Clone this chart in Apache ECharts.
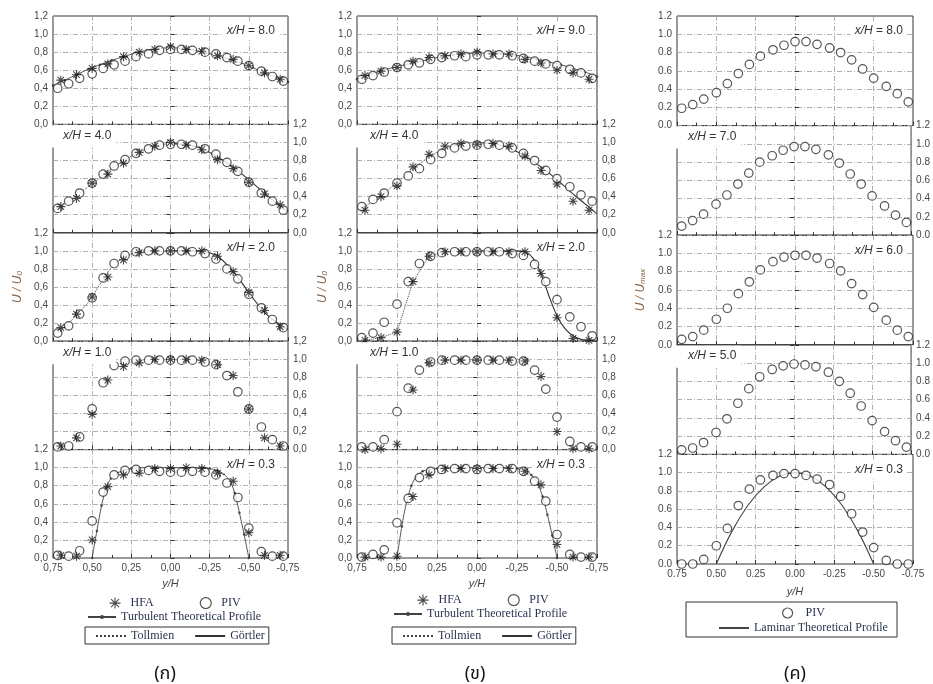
<!DOCTYPE html>
<html><head><meta charset="utf-8">
<script src="https://cdn.jsdelivr.net/npm/echarts@6/dist/echarts.min.js"></script>
<style>html,body{margin:0;padding:0;background:#fff}#c{width:933px;height:684px}</style>
</head><body><div id="c"></div>
<script>
// ---------- x positions (y/H) ----------
const yH_PIV = [0.72,0.65,0.58,0.50,0.43,0.36,0.29,0.22,0.14,0.07,0.00,-0.07,-0.14,-0.22,-0.29,-0.36,-0.43,-0.50,-0.58,-0.65,-0.72];
const yH_HFA = [0.7,0.6,0.5,0.4,0.3,0.2,0.1,0.0,-0.1,-0.2,-0.3,-0.4,-0.5,-0.6,-0.7];
const yH_curve = [0.75,0.675,0.6,0.525,0.45,0.375,0.3,0.225,0.15,0.075,0,-0.075,-0.15,-0.225,-0.3,-0.375,-0.45,-0.525,-0.6,-0.675,-0.75];
const yH_left = [0.75,0.675,0.6,0.525,0.45,0.375,0.3,0.225,0.15,0.075,0];
const yH_right = [0,-0.075,-0.15,-0.225,-0.3,-0.375,-0.45,-0.525,-0.6,-0.675,-0.75];
const yH_hat = [0.5,0.47,0.44,0.41,0.38,0.34,0.3,0.25,0.2,0.1,0,-0.1,-0.2,-0.25,-0.3,-0.34,-0.38,-0.41,-0.44,-0.47,-0.5];
const yH_lam = [0.5,0.4,0.3,0.2,0.1,0,-0.1,-0.2,-0.3,-0.4,-0.5];
const yH_tollB = [0.75,0.7,0.6,0.5,0.4,0.3,0.2,0.1,0];
const yH_gortB = [0,-0.1,-0.2,-0.25,-0.3,-0.35,-0.4,-0.45,-0.5,-0.55,-0.6,-0.65,-0.7,-0.75];

// ---------- column (ก) ----------
const a8_piv = [0.40,0.45,0.51,0.56,0.62,0.66,0.70,0.75,0.78,0.82,0.83,0.83,0.82,0.80,0.78,0.74,0.70,0.65,0.59,0.53,0.48];
const a8_hfa = [0.49,0.55,0.62,0.67,0.75,0.80,0.83,0.86,0.83,0.81,0.76,0.72,0.65,0.57,0.50];
const a8_turb = [0.43,0.49,0.55,0.61,0.66,0.71,0.75,0.79,0.82,0.84,0.85,0.84,0.82,0.79,0.76,0.72,0.68,0.63,0.57,0.52,0.47];
const a4_piv = [0.27,0.35,0.44,0.55,0.65,0.74,0.81,0.88,0.93,0.97,0.98,0.98,0.97,0.93,0.87,0.78,0.68,0.56,0.44,0.35,0.25];
const a4_hfa = [0.29,0.38,0.55,0.65,0.77,0.89,0.96,1.00,0.97,0.92,0.81,0.71,0.56,0.43,0.31];
const a4_toll = [0.25,0.32,0.41,0.51,0.61,0.71,0.80,0.87,0.93,0.97,0.99];
const a4_gort = [0.99,0.98,0.96,0.91,0.84,0.76,0.66,0.55,0.44,0.33,0.23];
const a2_piv = [0.09,0.17,0.30,0.48,0.70,0.86,0.95,0.99,1.00,1.00,1.00,1.00,0.99,0.97,0.91,0.80,0.69,0.52,0.37,0.24,0.15];
const a2_hfa = [0.15,0.30,0.49,0.71,0.90,0.98,1.00,1.00,1.00,1.00,0.94,0.77,0.54,0.34,0.16];
const a2_toll = [0.08,0.16,0.29,0.43,0.63,0.82,0.93,0.98,1.00,1.00,1.00];
const a2_gort = [1.00,1.00,1.00,0.99,0.94,0.82,0.66,0.48,0.32,0.21,0.13];
const a1_piv = [0.03,0.04,0.14,0.45,0.74,0.93,0.98,0.99,0.99,0.99,0.99,0.99,0.99,0.97,0.94,0.82,0.64,0.45,0.25,0.11,0.04];
const a1_hfa = [0.04,0.13,0.39,0.77,0.92,0.96,1.00,1.00,1.00,0.99,0.94,0.82,0.45,0.13,0.04];
const a03_piv = [0.03,0.02,0.08,0.41,0.73,0.92,0.97,0.98,0.97,0.96,0.95,0.95,0.96,0.95,0.92,0.83,0.67,0.33,0.07,0.02,0.02];
const a03_hfa = [0.03,0.02,0.20,0.79,0.92,0.94,0.99,0.99,1.00,0.99,0.94,0.85,0.28,0.03,0.03];
const a03_turb = [0.00,0.30,0.58,0.78,0.88,0.94,0.97,0.99,1.00,1.00,1.00,1.00,1.00,0.99,0.97,0.93,0.85,0.72,0.50,0.26,0.00];

// ---------- column (ข) ----------
const b9_piv = [0.50,0.54,0.58,0.63,0.66,0.68,0.72,0.74,0.76,0.75,0.77,0.77,0.77,0.76,0.73,0.70,0.67,0.65,0.61,0.57,0.51];
const b9_hfa = [0.54,0.59,0.63,0.70,0.74,0.76,0.78,0.80,0.78,0.78,0.72,0.68,0.60,0.57,0.50];
const b9_turb = [0.50,0.55,0.59,0.63,0.66,0.69,0.72,0.75,0.77,0.78,0.79,0.79,0.78,0.77,0.75,0.72,0.69,0.66,0.62,0.58,0.53];
const b4_piv = [0.29,0.37,0.44,0.55,0.63,0.71,0.81,0.88,0.94,0.96,0.97,0.98,0.97,0.94,0.88,0.80,0.69,0.60,0.51,0.42,0.35];
const b4_hfa = [0.25,0.40,0.52,0.73,0.87,0.96,0.99,0.98,0.99,0.96,0.85,0.69,0.54,0.35,0.25];
const b4_toll = [0.25,0.32,0.41,0.52,0.63,0.74,0.84,0.91,0.96,0.99,1.00];
const b4_gort = [1.00,0.99,0.97,0.92,0.85,0.76,0.66,0.55,0.43,0.32,0.21];
const b2_piv = [0.04,0.09,0.21,0.41,0.66,0.86,0.94,0.98,0.99,0.99,0.99,0.99,0.99,0.97,0.95,0.85,0.66,0.46,0.27,0.16,0.06];
const b2_hfa = [0.01,0.04,0.10,0.66,0.94,0.99,0.99,0.99,0.99,0.99,0.99,0.75,0.26,0.03,0.01];
const b2_toll = [0.00,0.01,0.04,0.10,0.66,0.94,0.99,1.00,1.00];
const b2_gort = [1.00,1.00,1.00,1.00,0.99,0.92,0.75,0.50,0.28,0.14,0.06,0.02,0.01,0.00];
const b1_piv = [0.03,0.03,0.11,0.42,0.68,0.88,0.97,0.99,0.99,0.99,0.99,0.99,0.99,0.98,0.98,0.88,0.67,0.36,0.09,0.03,0.03];
const b1_hfa = [0.00,0.01,0.06,0.66,0.96,0.99,0.99,0.99,0.99,0.99,0.98,0.81,0.20,0.01,0.01];
const b03_piv = [0.01,0.04,0.09,0.39,0.66,0.89,0.96,0.98,0.99,0.99,0.98,0.99,0.99,0.99,0.96,0.85,0.63,0.26,0.04,0.01,0.01];
const b03_hfa = [0.01,0.01,0.02,0.68,0.92,0.99,0.99,0.99,0.99,0.99,0.96,0.81,0.15,0.01,0.01];
const b03_turb = [0.00,0.35,0.62,0.80,0.90,0.96,0.98,0.99,1.00,1.00,1.00,1.00,1.00,0.99,0.97,0.92,0.82,0.68,0.48,0.25,0.00];

// ---------- column (ค) ----------
const c8_piv = [0.19,0.23,0.29,0.36,0.46,0.57,0.67,0.76,0.83,0.88,0.92,0.92,0.89,0.85,0.80,0.72,0.62,0.52,0.43,0.35,0.26];
const c7_piv = [0.10,0.16,0.23,0.34,0.44,0.56,0.68,0.80,0.87,0.93,0.97,0.97,0.94,0.88,0.79,0.67,0.56,0.43,0.32,0.22,0.14];
const c6_piv = [0.06,0.09,0.16,0.28,0.40,0.56,0.69,0.82,0.91,0.96,0.98,0.98,0.95,0.89,0.81,0.67,0.55,0.41,0.27,0.16,0.09];
const c5_piv = [0.05,0.07,0.13,0.24,0.39,0.56,0.72,0.85,0.93,0.97,0.99,0.98,0.96,0.90,0.80,0.67,0.53,0.37,0.25,0.15,0.08];
const c03_piv = [0.00,0.00,0.05,0.20,0.39,0.64,0.82,0.92,0.97,0.99,0.99,0.97,0.93,0.87,0.74,0.55,0.35,0.18,0.04,0.00,0.00];
const c03_lam = [0.00,0.36,0.64,0.84,0.96,1.00,0.96,0.84,0.64,0.36,0.00];

const panelLabelsA = ['8.0','4.0','2.0','1.0','0.3'];
const panelLabelsB = ['9.0','4.0','2.0','1.0','0.3'];
const panelLabelsC = ['8.0','7.0','6.0','5.0','0.3'];
const captions = ['(ก)','(ข)','(ค)'];

// ---------- styles ----------
const FONT = 'Liberation Sans, Arial, sans-serif';
const SERIF = 'Liberation Serif, Times New Roman, serif';
const LABEL = '#4a4540';
const ASTER = 'path://M0,-10L0,10M-10,0L10,0M-7.2,-7.2L7.2,7.2M-7.2,7.2L7.2,-7.2';
const GRIDLINE = {color:'#9c9c9c', width:0.8, type:[5,2,1,2]};

const LINESTYLES = {
  turb: {lineStyle:{color:'#444', width:0.9, type:'solid'}, symbol:'circle', symbolSize:2.5, smooth:0.3},
  toll: {lineStyle:{color:'#444', width:1, type:'dotted'}, symbol:'none', smooth:0.3},
  tollS: {lineStyle:{color:'#444', width:1, type:'dotted'}, symbol:'none', smooth:false},
  gort: {lineStyle:{color:'#333', width:1.1, type:'solid'}, symbol:'none', smooth:0.3},
  lam: {lineStyle:{color:'#444', width:1.1, type:'solid'}, symbol:'none', smooth:0.4}
};

const zip = (xs, ys) => xs.map((x, i) => [x, ys[i]]);

const PANELS = [
  [
    {label:panelLabelsA[0], piv:a8_piv, hfa:a8_hfa, lines:[{name:'Turbulent Theoretical Profile', xs:yH_curve, ys:a8_turb, st:'turb'}]},
    {label:panelLabelsA[1], piv:a4_piv, hfa:a4_hfa, lines:[{name:'Tollmien', xs:yH_left, ys:a4_toll, st:'toll'},{name:'Görtler', xs:yH_right, ys:a4_gort, st:'gort'}]},
    {label:panelLabelsA[2], piv:a2_piv, hfa:a2_hfa, lines:[{name:'Tollmien', xs:yH_left, ys:a2_toll, st:'toll'},{name:'Görtler', xs:yH_right, ys:a2_gort, st:'gort'}]},
    {label:panelLabelsA[3], piv:a1_piv, hfa:a1_hfa, lines:[]},
    {label:panelLabelsA[4], piv:a03_piv, hfa:a03_hfa, lines:[{name:'Turbulent Theoretical Profile', xs:yH_hat, ys:a03_turb, st:'turb'}]}
  ],
  [
    {label:panelLabelsB[0], piv:b9_piv, hfa:b9_hfa, lines:[{name:'Turbulent Theoretical Profile', xs:yH_curve, ys:b9_turb, st:'turb'}]},
    {label:panelLabelsB[1], piv:b4_piv, hfa:b4_hfa, lines:[{name:'Tollmien', xs:yH_left, ys:b4_toll, st:'toll'},{name:'Görtler', xs:yH_right, ys:b4_gort, st:'gort'}]},
    {label:panelLabelsB[2], piv:b2_piv, hfa:b2_hfa, lines:[{name:'Tollmien', xs:yH_tollB, ys:b2_toll, st:'tollS'},{name:'Görtler', xs:yH_gortB, ys:b2_gort, st:'gort'}]},
    {label:panelLabelsB[3], piv:b1_piv, hfa:b1_hfa, lines:[]},
    {label:panelLabelsB[4], piv:b03_piv, hfa:b03_hfa, lines:[{name:'Turbulent Theoretical Profile', xs:yH_hat, ys:b03_turb, st:'turb'}]}
  ],
  [
    {label:panelLabelsC[0], piv:c8_piv, lines:[]},
    {label:panelLabelsC[1], piv:c7_piv, lines:[]},
    {label:panelLabelsC[2], piv:c6_piv, lines:[]},
    {label:panelLabelsC[3], piv:c5_piv, lines:[]},
    {label:panelLabelsC[4], piv:c03_piv, lines:[{name:'Laminar Theoretical Profile', xs:yH_lam, ys:c03_lam, st:'lam'}]}
  ]
];

const COLS = [
  {left:53, width:235, tops:[16,124.4,232.8,341.2,449.6], h:108.4, dec:',', tRight:654, tLeft:50, tPad:13, yName:'U / U{s|0}', yGap:29, xGap:20},
  {left:357, width:240, tops:[16,124.4,232.8,341.2,449.6], h:108.4, dec:',', tRight:344, tLeft:354, tPad:16, yName:'U / U{s|0}', yGap:28, xGap:20},
  {left:677, width:236, tops:[16,125.6,235.2,344.8,454.4], h:109.6, dec:'.', tRight:26, tLeft:674, tPad:14, yName:'U / U{s|max}', yGap:30, xGap:22}
];

const option = {animation:false, backgroundColor:'#fff', grid:[], xAxis:[], yAxis:[], series:[], title:[], legend:[], graphic:[]};

COLS.forEach((c, ci) => {
  PANELS[ci].forEach((p, ri) => {
    const gi = option.grid.length;
    const top = c.tops[ri];
    const bottom = ri === 4;
    const rightSide = ri % 2 === 1;
    option.grid.push({left:c.left, top:top, width:c.width, height:c.h, show:true, borderColor:'#333', borderWidth:1, backgroundColor:'transparent'});
    option.xAxis.push({
      gridIndex:gi, type:'value', inverse:true, min:-0.75, max:0.75, interval:0.25,
      axisLine:{show:false},
      axisTick:{show:true, inside:true, length:4, lineStyle:{color:'#333'}},
      minorTick:{show:true, splitNumber:2, length:3, lineStyle:{color:'#333'}},
      splitLine:{show:true, lineStyle:GRIDLINE},
      axisLabel:{show:bottom, formatter:v => v.toFixed(2).replace('.', c.dec), color:LABEL, fontSize:10, fontFamily:FONT, margin:5},
      name: bottom ? 'y/H' : '', nameLocation:'middle', nameGap:c.xGap,
      nameTextStyle:{fontStyle:'italic', fontFamily:FONT, fontSize:11, color:'#444'}
    });
    option.yAxis.push({
      gridIndex:gi, type:'value', min:0, max:1.2, interval:0.2, position: rightSide ? 'right' : 'left',
      axisLine:{show:false},
      axisTick:{show:true, inside:true, length:4, lineStyle:{color:'#333'}},
      splitLine:{show:true, lineStyle:GRIDLINE},
      axisLabel:{formatter:v => v.toFixed(1).replace('.', c.dec), color:LABEL, fontSize:10, fontFamily:FONT, margin:5},
      name: ri === 2 ? c.yName : '', nameLocation:'middle', nameGap:c.yGap, nameRotate:90,
      nameTextStyle:{fontStyle:'italic', fontFamily:FONT, fontSize:12, color:'#8a6446',
        rich:{s:{fontStyle:'italic', fontFamily:FONT, fontSize:8, color:'#8a6446', verticalAlign:'bottom', padding:[4,0,0,0]}}}
    });
    p.lines.forEach(l => {
      const st = LINESTYLES[l.st];
      option.series.push({type:'line', name:l.name, xAxisIndex:gi, yAxisIndex:gi, data:zip(l.xs, l.ys),
        smooth:st.smooth, symbol:st.symbol, symbolSize:st.symbolSize || 2, showSymbol:st.symbol !== 'none',
        lineStyle:st.lineStyle, itemStyle:{color:st.lineStyle.color}, z:3, silent:true});
    });
    if (p.hfa) {
      option.series.push({type:'scatter', name:'HFA', xAxisIndex:gi, yAxisIndex:gi, data:zip(yH_HFA, p.hfa),
        symbol:ASTER, symbolSize:9, itemStyle:{color:'transparent', borderColor:'#1a1a1a', borderWidth:1.1}, z:5, silent:true});
    }
    option.series.push({type:'scatter', name:'PIV', xAxisIndex:gi, yAxisIndex:gi, data:zip(yH_PIV, p.piv),
      symbol:'circle', symbolSize:8.5, itemStyle:{color:'#fff', borderColor:'#2a2a2a', borderWidth:1.2}, z:4, silent:true});
    const titleBase = {text:'{i|x/H} = ' + p.label, backgroundColor:'#fff', z:10,
      textStyle:{fontFamily:FONT, fontSize:12, fontWeight:'normal', color:'#333', lineHeight:14,
        rich:{i:{fontFamily:FONT, fontSize:12, fontStyle:'italic', color:'#333', lineHeight:14}}}};
    if (rightSide) {
      option.title.push(Object.assign({}, titleBase, {left:c.tLeft, top:top + 1, padding:[3,5,5,c.tPad]}));
    } else {
      option.title.push(Object.assign({}, titleBase, {right:c.tRight, top:top + 6, padding:[2,4,2,4]}));
    }
  });
});

// ---------- legends ----------
const legText = {fontFamily:SERIF, fontSize:12, color:'#2a3450'};
const hfaItem = {name:'HFA', icon:ASTER, itemStyle:{color:'transparent', borderColor:'#1a1a1a', borderWidth:1.1}};
const pivItem = {name:'PIV', icon:'circle', itemStyle:{color:'#fff', borderColor:'#2a2a2a', borderWidth:1.2}};
const noSym = name => ({name:name, itemStyle:{opacity:0}});
const legendPos = [
  {pts:[109,597], turb:[87,611], box:[85,627]},
  {pts:[417,594], turb:[393,608], box:[392,627]}
];
legendPos.forEach(lp => {
  option.legend.push({data:[hfaItem, pivItem], left:lp.pts[0], top:lp.pts[1], padding:0, itemWidth:11, itemHeight:11, itemGap:46,
    selectedMode:false, textStyle:Object.assign({}, legText, {padding:[0,0,0,5]})});
  option.legend.push({data:['Turbulent Theoretical Profile'], left:lp.turb[0], top:lp.turb[1], padding:0, itemWidth:28, itemHeight:5,
    selectedMode:false, textStyle:legText});
  option.legend.push({data:[noSym('Tollmien'), noSym('Görtler')], left:lp.box[0], top:lp.box[1], padding:[3,4,2,10], itemWidth:30, itemHeight:10, itemGap:20,
    borderColor:'#333', borderWidth:1, selectedMode:false, textStyle:legText});
});
option.legend.push({data:[pivItem], left:782, top:607, padding:0, itemWidth:10, itemHeight:10, selectedMode:false,
  textStyle:Object.assign({}, legText, {padding:[0,0,0,8]})});
option.legend.push({data:[noSym('Laminar Theoretical Profile')], left:718, top:622, padding:0, itemWidth:30, itemHeight:8, selectedMode:false, textStyle:legText});
option.graphic.push({type:'rect', shape:{x:686, y:602, width:211, height:35}, style:{fill:'none', stroke:'#333', lineWidth:1}, z:1});

// ---------- captions ----------
const capX = [165, 475, 795];
captions.forEach((t, i) => {
  option.graphic.push({type:'text', x:capX[i], y:675, z:10,
    style:{text:t, align:'center', verticalAlign:'middle', fontSize:18, fontFamily:'Noto Sans Thai, Loma, Garuda, Tlwg Typo, Noto Sans, DejaVu Sans, sans-serif', fill:'#111'}});
});

const chart = echarts.init(document.getElementById('c'), null, {renderer:'canvas'});
chart.setOption(option);
</script></body></html>
